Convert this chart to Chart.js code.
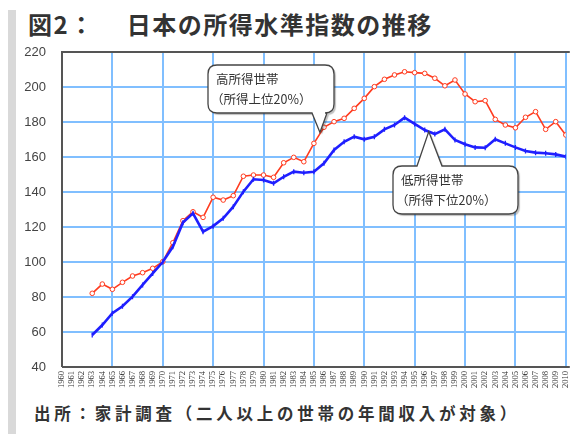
<!DOCTYPE html>
<html><head><meta charset="utf-8">
<script src="https://cdn.jsdelivr.net/npm/chart.js@4.4.1/dist/chart.umd.min.js"></script>
<style>
html,body{margin:0;padding:0;background:#fff;overflow:hidden;width:575px;height:434px;}
#strip{position:absolute;left:8px;top:10px;width:8px;height:424px;background:#d9d9d9;}
#title{position:absolute;left:28px;top:6px;font:bold 24px "Noto Sans CJK JP";color:#333;letter-spacing:1.5px;white-space:nowrap;}
#title span{margin-left:32px;}
#foot{position:absolute;left:34px;top:401px;font:bold 16.5px "Noto Sans CJK JP";color:#333;letter-spacing:3.75px;white-space:nowrap;}
#wrap{position:absolute;left:0;top:0;width:580px;height:434px;}
</style></head><body>
<div id="strip"></div>
<div id="title">図2：<span>日本の所得水準指数の推移</span></div>
<div id="foot">出所：家計調査（二人以上の世帯の年間収入が対象）</div>
<div id="wrap"><canvas id="c" width="580" height="434"></canvas></div>
<script>
const years = [1963,1964,1965,1966,1967,1968,1969,1970,1971,1972,1973,1974,1975,1976,1977,1978,1979,1980,1981,1982,1983,1984,1985,1986,1987,1988,1989,1990,1991,1992,1993,1994,1995,1996,1997,1998,1999,2000,2001,2002,2003,2004,2005,2006,2007,2008,2009,2010];
const highIncome = [82.1,87.4,84.4,88.4,92.0,93.9,96.4,100.2,111,123.6,128.7,125.5,137,135.4,137.9,149,149.7,149.7,148.4,156.7,159.8,157.3,167.8,177,180.2,182.1,187.8,193.5,200.2,204.4,206.9,208.7,208.2,207.8,205,200.7,204,196,191.6,192.2,181.5,178.3,176.7,182.7,185.9,175.8,180.2,172.6];
const lowIncome = [58.3,64,70.7,74.7,80.2,86.9,93.5,100,108.7,122.5,127.8,117.3,120.5,125,131.6,140.2,147.3,146.9,145,148.7,151.6,151,151.6,156.4,164,168.7,171.6,170.1,171.6,175.8,178.3,182.5,178.9,175.4,173.1,175.8,169.7,167.3,165.5,165.3,170.1,167.8,165.5,163.4,162.5,162.1,161.5,160.2];
const yTicks = [40,60,80,100,120,140,160,180,200,220];
const highLabel = ["高所得世帯","（所得上位20%）"];
const lowLabel = ["低所得世帯","（所得下位20%）"];

const callouts = {
  id:'callouts',
  afterDatasetsDraw(chart){
    const ctx = chart.ctx, xs = chart.scales.x, ys = chart.scales.y;
    function box(x,y,w,h,r,base1,base2,tip,top,lines){
      ctx.save();
      ctx.beginPath();
      ctx.moveTo(x+r,y);
      if(top){ ctx.lineTo(base1,y); ctx.lineTo(tip[0],tip[1]); ctx.lineTo(base2,y); }
      ctx.lineTo(x+w-r,y); ctx.quadraticCurveTo(x+w,y,x+w,y+r);
      ctx.lineTo(x+w,y+h-r); ctx.quadraticCurveTo(x+w,y+h,x+w-r,y+h);
      if(!top){ ctx.lineTo(base2,y+h); ctx.lineTo(tip[0],tip[1]); ctx.lineTo(base1,y+h); }
      ctx.lineTo(x+r,y+h); ctx.quadraticCurveTo(x,y+h,x,y+h-r);
      ctx.lineTo(x,y+r); ctx.quadraticCurveTo(x,y,x+r,y);
      ctx.closePath();
      ctx.shadowColor='rgba(0,0,0,0.25)'; ctx.shadowOffsetX=2; ctx.shadowOffsetY=2; ctx.shadowBlur=1;
      ctx.fillStyle='#fff'; ctx.fill();
      ctx.shadowColor='transparent';
      ctx.strokeStyle='#444'; ctx.lineWidth=1.3; ctx.stroke();
      ctx.fillStyle='#333'; ctx.font='12.5px "Noto Sans CJK JP"'; ctx.textBaseline='middle';
      ctx.fillText(lines[0], x+8, y+h*0.3);
      ctx.fillText(lines[1], x+3, y+h*0.72);
      ctx.restore();
    }
    const t1=[xs.getPixelForValue(1985.6), ys.getPixelForValue(174)];
    box(208,65,126,48,9,312,327,t1,false,highLabel);
    const t2=[xs.getPixelForValue(1996.4), ys.getPixelForValue(174.5)];
    box(393,166,125,48,9,417,442,t2,true,lowLabel);
  }
};
const frame = {
  id:'frame',
  afterDraw(chart){
    const a=chart.chartArea, ctx=chart.ctx;
    ctx.save(); ctx.strokeStyle='#555'; ctx.lineWidth=2;
    ctx.beginPath(); ctx.moveTo(a.left,a.bottom); ctx.lineTo(a.left,a.top); ctx.lineTo(a.right+4,a.top); ctx.stroke();
    ctx.beginPath(); ctx.moveTo(a.left,a.bottom); ctx.lineTo(a.right+4,a.bottom); ctx.stroke();
    ctx.restore();
  }
};

new Chart(document.getElementById('c'),{
  type:'line',
  data:{labels:years,datasets:[
    {label:'低所得世帯',data:years.map((y,i)=>({x:y,y:lowIncome[i]})),borderColor:'#1f1fff',borderWidth:2.6,pointStyle:'line',rotation:90,pointRadius:2.5,pointBorderWidth:1.3,pointBorderColor:'#1f1fff',tension:0},
    {label:'高所得世帯',data:years.map((y,i)=>({x:y,y:highIncome[i]})),borderColor:'#ff3b1f',borderWidth:1.6,pointStyle:'circle',pointRadius:2.3,pointBorderWidth:1,pointBackgroundColor:'#fff',pointBorderColor:'#ff3b1f',tension:0}
  ]},
  options:{
    responsive:false, animation:false, devicePixelRatio:1,
    layout:{padding:{left:0,top:52,right:3,bottom:0}},
    plugins:{legend:{display:false},tooltip:{enabled:false}},
    scales:{
      x:{type:'linear',min:1960,max:2010,
        afterFit:s=>{s.height=67;},
        afterBuildTicks:s=>{s.ticks=[];for(let y=1960;y<=2010;y++)s.ticks.push({value:y});},
        grid:{color:c=>(c.tick&&c.tick.value%5===0)?'#80bfff':'rgba(0,0,0,0)',lineWidth:2,drawTicks:false},
        border:{display:false},
        ticks:{autoSkip:false,maxRotation:90,minRotation:90,padding:4,color:'#333',font:{size:8.5,family:'Liberation Sans Narrow'},callback:v=>String(v)}
      },
      y:{min:40,max:220,
        afterFit:s=>{s.width=62;},
        afterBuildTicks:s=>{s.ticks=yTicks.map(v=>({value:v}));},
        grid:{color:'#80bfff',lineWidth:2,drawTicks:false},
        border:{display:false},
        ticks:{padding:16,color:'#444',font:{size:13,family:'Liberation Sans'}}
      }
    }
  },
  plugins:[frame,callouts]
});
</script>
</body></html>
